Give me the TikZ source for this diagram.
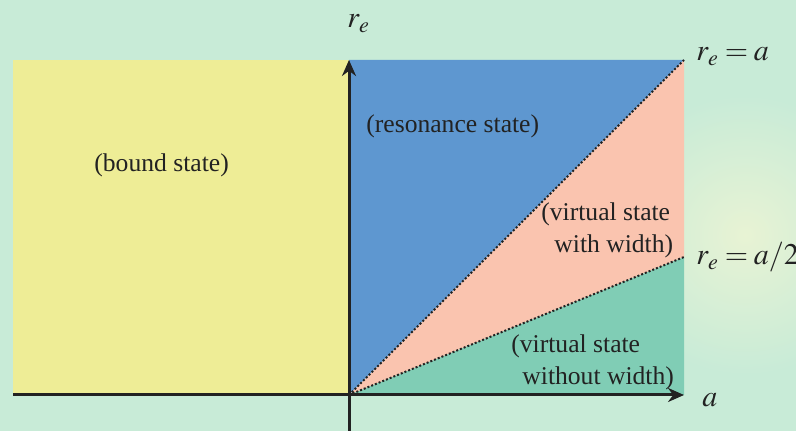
\documentclass[tikz,border=0pt]{standalone}
\usepackage{mathptmx}
\usepackage[no-math]{fontspec}
\setmainfont{Liberation Serif}
\usepackage{xcolor}
\usepackage{tikz}
\usetikzlibrary{arrows.meta}

\definecolor{bgmint}{RGB}{200,235,215}
\definecolor{bgglow}{RGB}{232,243,212}
\definecolor{boundyellow}{RGB}{238,237,150}
\definecolor{resblue}{RGB}{94,151,208}
\definecolor{widthpink}{RGB}{250,196,175}
\definecolor{nowidthteal}{RGB}{128,205,181}
\definecolor{inkdark}{RGB}{34,34,34}

\begin{document}
\begin{tikzpicture}[x=0.5pt, y=-0.5pt,
    statelabel/.style={inner sep=0pt, anchor=base west, text=inkdark,
        font=\fontsize{12.8}{16}\selectfont},
    mathlabel/.style={inner sep=0pt, anchor=base west, text=inkdark,
        font=\fontsize{15}{18}\selectfont,
        execute at begin node={\thickmuskip=3.5mu\relax}},
    axis/.style={line width=1.5pt, inkdark, -{Stealth[length=8pt, width=7pt]}},
    border/.style={densely dotted, line width=1pt, inkdark}]
    \useasboundingbox (0,0) rectangle (796,431);

    % background
    \fill[bgmint] (0,0) rectangle (796,431);
    \begin{scope}
        \clip (0,0) rectangle (796,431);
        \shade[inner color=bgglow, outer color=bgmint] (745,235) circle (140);
    \end{scope}

    % corner points
    \coordinate (O) at (349,395);
    \coordinate (top) at (349,60);
    \coordinate (ra) at (684,60);
    \coordinate (rhalf) at (684,257);
    \coordinate (low) at (684,395);
    \coordinate (xstart) at (13,395);
    \coordinate (xend) at (684,395);
    \coordinate (ystart) at (349,431);

    % regions
    \fill[boundyellow] (13,60) rectangle (O);
    \fill[resblue] (O) -- (top) -- (ra) -- cycle;
    \fill[widthpink] (O) -- (ra) -- (rhalf) -- cycle;
    \fill[nowidthteal] (O) -- (rhalf) -- (low) -- cycle;

    % dotted borders
    \draw[border] (O) -- (ra);
    \draw[border] (O) -- (rhalf);

    % axes
    \draw[axis] (xstart) -- (xend);
    \draw[axis] (ystart) -- (top);

    % region labels (multi-line ones sit on their last line)
    \node[statelabel] (bound) at (94,172) {(bound state)};
    \node[statelabel] (resonance) at (366,133) {(resonance state)};
    \node[statelabel, align=left] (withw) at (541,253)
        {(virtual state\\\hspace{6.5pt}with width)};
    \node[statelabel, align=left] (withoutw) at (511,385)
        {(virtual state\\\hspace{5.5pt}without width)};

    % axis and line labels
    \node[mathlabel] (relabel) at (347,28) {$r_e$};
    \node[mathlabel] (alabel) at (702,407) {$a$};
    \node[mathlabel] (ralabel) at (696,61) {$r_e = a$};
    \node[mathlabel] (rhalflabel) at (696,265) {$r_e = a/2$};
\end{tikzpicture}
\end{document}
